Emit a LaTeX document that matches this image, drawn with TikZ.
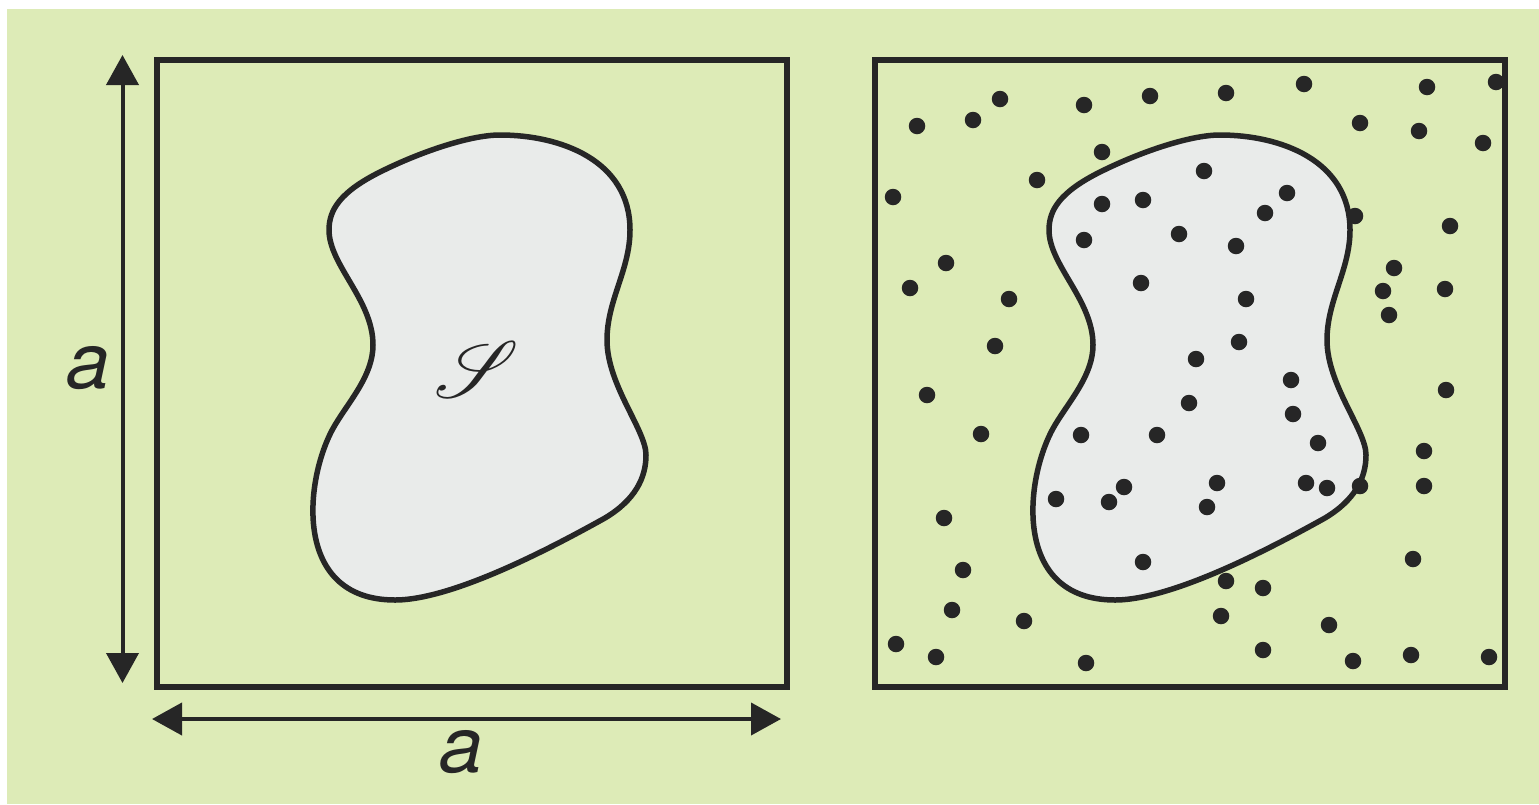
\documentclass[tikz,border=0pt]{standalone}
\usepackage{fontspec}
\setmainfont{TeX Gyre Heros}
\usepackage{mathrsfs}
\usepackage{graphicx}
\usetikzlibrary{arrows.meta}
\definecolor{bggreen}{HTML}{DDEBB7}
\definecolor{blobgray}{HTML}{E9EBEA}
\definecolor{ink}{HTML}{262626}
\tikzset{
  frame/.style={draw=ink, line width=6pt, minimum width=630pt, minimum height=627pt, inner sep=0pt, outer sep=0pt},
  blob/.style={draw=ink, fill=blobgray, line width=5.5pt},
  dim/.style={draw=ink, line width=4pt, {Triangle[length=30pt,width=32pt]}-{Triangle[length=30pt,width=32pt]}},
  lbl/.style={text=ink, font=\fontsize{78}{80}\selectfont\itshape, inner sep=0pt},
  dot/.style={fill=ink, circle, inner sep=0pt, minimum size=16.5pt},
}
\newcommand{\blobpath}{(500,135) .. controls (470,135) and (420,152) .. (380,172)
 .. controls (340,192) and (329,210) .. (329,230)
 .. controls (329,265) and (373,300) .. (373,345)
 .. controls (373,375) and (350,400) .. (335,425)
 .. controls (305,475) and (290,600) .. (395,600)
 .. controls (455,600) and (560,543) .. (605,518)
 .. controls (635,500) and (646,478) .. (646,455)
 .. controls (646,430) and (607,385) .. (607,340)
 .. controls (607,300) and (630,270) .. (630,230)
 .. controls (630,160) and (560,135) .. (500,135) -- cycle}
\begin{document}
\begin{tikzpicture}[x=1pt, y=-1pt]
\useasboundingbox (0,0) rectangle (1539,804);
\fill[white] (0,0) rectangle (1539,804);
\fill[bggreen] (7,9) rectangle (1539,804);
% left panel
\node[frame] (sqL) at (471.5,373) {};
\draw[blob] \blobpath;
\node[text=ink, inner sep=0pt] (S) at (477,369) {\scalebox{8}{$\mathscr{S}$}};
% dimension arrows
\coordinate (vt) at (122.5,55);
\coordinate (vb) at (122.5,683);
\coordinate (hl) at (152,719);
\coordinate (hr) at (781,719);
\draw[dim] (vt) -- (vb);
\draw[dim] (hl) -- (hr);
\node[lbl] (aV) at (88,368) {a};
\node[lbl] (aH) at (461,752) {a};
% right panel
\node[frame] (sqR) at (1190,373) {};
\begin{scope}[xshift=720pt]
\draw[blob] \blobpath;
\end{scope}
\foreach \p [count=\i] in {
 (917,126),(973,120),(1000,99),(1084,105),(1150,96),(1102,152),(1037,180),(893,197),
 (1102,204),(1143,200),(1179,234),(1084,240),(1141,283),(946,263),(910,288),(1009,299),
 (995,346),(1226,93),(1304,84),(1427,87),(1496,82),(1360,123),(1419,131),(1483,143),
 (1204,171),(1287,193),(1265,213),(1355,216),(1236,246),(1450,226),(1394,268),(1383,291),
 (1445,289),(1389,315),(1246,299),(1239,342),(1196,359),(1291,380),(927,395),(981,434),
 (1081,435),(1157,435),(1189,403),(1124,487),(1109,502),(1056,499),(1143,562),(944,518),
 (963,570),(952,610),(1024,621),(896,644),(936,657),(1086,663),(1293,414),(1446,390),
 (1318,443),(1424,451),(1217,483),(1306,483),(1327,488),(1360,486),(1424,486),(1207,507),
 (1413,559),(1226,581),(1263,588),(1221,616),(1329,625),(1263,650),(1353,661),(1411,655),
 (1489,657)}
 \node[dot] (d\i) at \p {};
\end{tikzpicture}
\end{document}
